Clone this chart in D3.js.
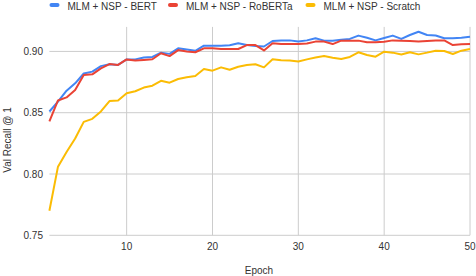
<!DOCTYPE html>
<meta charset="utf-8">
<head>
    <title></title>
    <script src="https://cdn.jsdelivr.net/npm/d3@7"></script>
</head>
<style>
    body{ margin:0; background:#fff; }
    text{ font-family: "Liberation Sans", Arial, sans-serif; font-size:10px; fill:#333; }
</style>
<svg width="476" height="276"></svg>
<script>
    var epochs = d3.range(1, 51);

    var bert = [0.851,0.859,0.868,0.874,0.882,0.8835,0.888,0.8895,0.889,0.8935,
                0.8935,0.895,0.8955,0.899,0.898,0.9025,0.9015,0.9005,0.9047,0.9047,
                0.9047,0.905,0.9066,0.9052,0.9044,0.904,0.9085,0.909,0.909,0.908,
                0.909,0.9107,0.9088,0.9088,0.9095,0.9102,0.9129,0.9112,0.909,0.911,
                0.9129,0.9102,0.9134,0.916,0.9134,0.913,0.9107,0.9107,0.9112,0.912];

    var roberta = [0.843,0.860,0.8625,0.8685,0.8807,0.8813,0.8862,0.8897,0.889,0.8935,
                   0.8925,0.893,0.8936,0.8985,0.8962,0.9011,0.900,0.8993,0.9025,0.9025,
                   0.902,0.902,0.902,0.9052,0.9052,0.9008,0.9066,0.906,0.906,0.906,
                   0.9065,0.908,0.908,0.906,0.9088,0.9088,0.9088,0.9075,0.9075,0.9078,
                   0.909,0.9088,0.9085,0.908,0.9085,0.909,0.909,0.9052,0.9058,0.906];

    var scratch = [0.770,0.806,0.818,0.829,0.8425,0.845,0.851,0.8595,0.860,0.8658,
                   0.8675,0.8705,0.872,0.876,0.8745,0.8775,0.879,0.880,0.8856,0.8843,
                   0.887,0.885,0.8875,0.8889,0.8895,0.887,0.8936,0.8928,0.8925,0.8918,
                   0.8935,0.895,0.8962,0.8948,0.8938,0.8955,0.8993,0.8971,0.8957,0.8998,
                   0.899,0.8975,0.8993,0.8976,0.899,0.9006,0.9003,0.8979,0.9006,0.902];

    var seriesNames = ['MLM + NSP - BERT', 'MLM + NSP - RoBERTa', 'MLM + NSP - Scratch'];
    var seriesColors = ['#4285f4', '#ea4335', '#fbbc04'];
    var xTicks = [10, 20, 30, 40, 50];
    var yTicks = [0.75, 0.80, 0.85, 0.90];

    var svg = d3.select('svg');
    var plotLeft = 49.4, plotRight = 470, plotTop = 26.9, plotBottom = 235.3;

    var x = d3.scaleLinear().domain([1, 50]).range([plotLeft, plotRight]);
    var y = d3.scaleLinear().domain([0.75, 0.92]).range([plotBottom, plotTop]);

    // grid
    var grid = svg.append('g');
    grid.selectAll('line.h').data(yTicks).enter().append('line')
        .attr('x1', plotLeft).attr('x2', plotRight)
        .attr('y1', function(d){ return y(d); }).attr('y2', function(d){ return y(d); })
        .style('stroke', '#ccc').style('stroke-width', 1);
    grid.selectAll('line.v').data(xTicks).enter().append('line')
        .attr('x1', function(d){ return x(d); }).attr('x2', function(d){ return x(d); })
        .attr('y1', plotTop).attr('y2', plotBottom)
        .style('stroke', '#ccc').style('stroke-width', 1);

    // tick labels
    svg.append('g').selectAll('text').data(yTicks).enter().append('text')
        .attr('x', 43).attr('y', function(d){ return y(d) + 3.5; })
        .attr('text-anchor', 'end')
        .text(function(d){ return d3.format('.2f')(d); });
    svg.append('g').selectAll('text').data(xTicks).enter().append('text')
        .attr('x', function(d){ return x(d); }).attr('y', 250)
        .attr('text-anchor', 'middle')
        .text(function(d){ return d; });

    // axis titles
    svg.append('text').attr('x', 259).attr('y', 274).attr('text-anchor', 'middle').text('Epoch');
    svg.append('text').attr('transform', 'translate(11,140) rotate(-90)')
        .attr('text-anchor', 'middle').text('Val Recall @ 1');

    // lines
    var line = d3.line()
        .x(function(d, i){ return x(epochs[i]); })
        .y(function(d){ return y(d); });

    [bert, roberta, scratch].forEach(function(s, i){
        svg.append('path').datum(s)
            .attr('d', line)
            .style('fill', 'none')
            .style('stroke', seriesColors[i])
            .style('stroke-width', 2)
            .style('stroke-linejoin', 'round');
    });

    // legend
    var legendX = [49.5, 168, 305.5];
    var legend = svg.append('g').selectAll('g').data(seriesNames).enter().append('g')
        .attr('transform', function(d, i){ return 'translate(' + legendX[i] + ',0)'; });
    legend.append('rect')
        .attr('x', 0).attr('y', 3).attr('width', 10).attr('height', 4).attr('rx', 2)
        .style('fill', function(d, i){ return seriesColors[i]; });
    legend.append('text')
        .attr('x', 18).attr('y', 10)
        .text(function(d){ return d; });
</script>
